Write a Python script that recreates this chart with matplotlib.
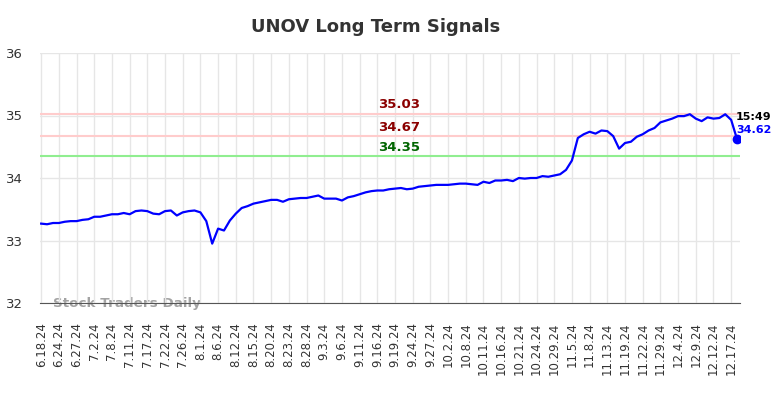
import matplotlib
matplotlib.use("Agg")
import matplotlib.pyplot as plt

# ---- data ------------------------------------------------------------------
tick_labels = [
    "6.18.24", "6.24.24", "6.27.24", "7.2.24", "7.8.24", "7.11.24", "7.17.24",
    "7.22.24", "7.26.24", "8.1.24", "8.6.24", "8.12.24", "8.15.24", "8.20.24",
    "8.23.24", "8.28.24", "9.3.24", "9.6.24", "9.11.24", "9.16.24", "9.19.24",
    "9.24.24", "9.27.24", "10.2.24", "10.8.24", "10.11.24", "10.16.24",
    "10.21.24", "10.24.24", "10.29.24", "11.5.24", "11.8.24", "11.13.24",
    "11.19.24", "11.22.24", "11.29.24", "12.4.24", "12.9.24", "12.12.24",
    "12.17.24",
]

prices = [
    33.27, 33.26, 33.28, 33.28, 33.30, 33.31, 33.31, 33.33, 33.34, 33.38,
    33.38, 33.40, 33.42, 33.42, 33.44, 33.42, 33.47, 33.48, 33.47, 33.43,
    33.42, 33.47, 33.48, 33.40, 33.45, 33.47, 33.48, 33.45, 33.31, 32.95,
    33.19, 33.16, 33.32, 33.43, 33.52, 33.55, 33.59, 33.61, 33.63, 33.65,
    33.65, 33.62, 33.66, 33.67, 33.68, 33.68, 33.70, 33.72, 33.67, 33.67,
    33.67, 33.64, 33.69, 33.71, 33.74, 33.77, 33.79, 33.80, 33.80, 33.82,
    33.83, 33.84, 33.82, 33.83, 33.86, 33.87, 33.88, 33.89, 33.89, 33.89,
    33.90, 33.91, 33.91, 33.90, 33.89, 33.94, 33.92, 33.96, 33.96, 33.97,
    33.95, 34.00, 33.99, 34.00, 34.00, 34.03, 34.02, 34.04, 34.06, 34.13,
    34.28, 34.64, 34.70, 34.74, 34.71, 34.76, 34.75, 34.67, 34.47, 34.56,
    34.58, 34.66, 34.70, 34.76, 34.80, 34.89, 34.92, 34.95, 34.99, 34.99,
    35.02, 34.95, 34.91, 34.97, 34.95, 34.96, 35.02, 34.93, 34.62,
]

levels = [35.03, 34.67, 34.35]
level_colors = ["#8b0000", "#8b0000", "#006400"]
level_line_colors = ["#ffcccc", "#ffcccc", "#90ee90"]
TICK_STEP = 3
last_time = "15:49"

# ---- figure ----------------------------------------------------------------
fig = plt.figure(figsize=(7.84, 3.98), dpi=100)
ax = fig.add_axes([40 / 784, 95 / 398, 700 / 784, 250 / 398])

x = list(range(len(prices)))
ax.plot(x, prices, color="blue", linewidth=1.6, zorder=3)
ax.scatter([x[-1]], [prices[-1]], s=36, color="blue", zorder=4)

for lv, lc in zip(levels, level_line_colors):
    ax.axhline(lv, color=lc, linewidth=1.5, zorder=2)

# level labels sit a little right of the middle, just above each line
label_x = 60.7
for lv, tc in zip(levels, level_colors):
    ax.text(label_x, lv + 0.14, f"{lv:.2f}", color=tc, fontsize=9.5,
            fontweight="bold", ha="center", va="center", zorder=5)

ax.text(x[-1] - 0.2, prices[-1] + 0.36, last_time, fontsize=8,
        fontweight="bold", color="black", ha="left", va="center")
ax.text(x[-1] - 0.2, prices[-1] + 0.15, f"{prices[-1]:.2f}", fontsize=8,
        fontweight="bold", color="blue", ha="left", va="center")

ax.text(2, 32.0, "Stock Traders Daily", fontsize=9.7, fontweight="bold",
        color="#999999", alpha=0.9, ha="left", va="center", zorder=1,
        clip_on=False)

ax.set_xlim(-0.2, 118.5)
ax.set_ylim(32, 36)
ax.set_yticks([32, 33, 34, 35, 36])
ax.set_xticks(list(range(0, len(tick_labels) * TICK_STEP, TICK_STEP)))
ax.set_xticklabels(tick_labels, rotation=90, fontsize=8.5)
ax.tick_params(axis="both", length=0, colors="#333333")
ax.tick_params(axis="x", pad=14)
ax.tick_params(axis="y", pad=12, labelsize=9.5)

ax.grid(True, color="#e6e6e6", linewidth=1, zorder=0)
for side in ["top", "right", "left"]:
    ax.spines[side].set_visible(False)
ax.spines["bottom"].set_color("#555555")

fig.suptitle("UNOV Long Term Signals", fontsize=13, fontweight="bold",
             color="#333333", x=0.479, y=0.955)

fig.savefig("out.png", dpi=100)
